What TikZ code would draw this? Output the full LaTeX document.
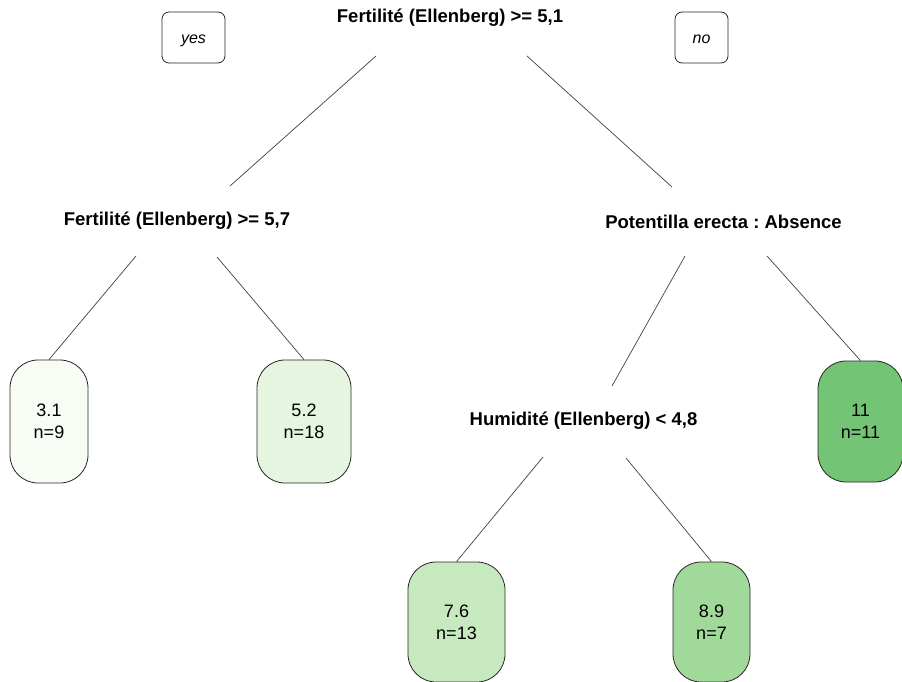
\documentclass[tikz,border=0pt]{standalone}
\usepackage{fontspec}
\setmainfont{Liberation Sans}
\frenchspacing
\definecolor{gA}{HTML}{F7FCF5}
\definecolor{gB}{HTML}{E5F5E0}
\definecolor{gC}{HTML}{C7E9C0}
\definecolor{gD}{HTML}{A1D99B}
\definecolor{gE}{HTML}{74C476}
\begin{document}
\begin{tikzpicture}[x=1pt,y=-1pt,
  split/.style={font=\fontsize{18.5}{22}\selectfont\bfseries, inner sep=0pt},
  leaf/.style={draw=black!85, line width=0.8pt, rounded corners=28pt, align=center,
    font=\fontsize{18}{21.7}\selectfont, inner sep=0pt},
  yn/.style={draw=black!85, line width=0.8pt, rounded corners=7pt,
    font=\fontsize{16}{18}\selectfont\itshape, minimum height=51pt, inner sep=0pt,
    text height=13pt, text depth=0pt},
  branch/.style={line width=0.7pt, draw=black!75}]
\useasboundingbox (0,0) rectangle (902,682);

% split labels
\node[split] (root) at (450,18) {Fertilité (Ellenberg) >= 5,1};
\node[split] (n2) at (177,221) {Fertilité (Ellenberg) >= 5,7};
\node[split] (n3) at (723.5,222) {Potentilla erecta : Absence};
\node[split] (n6) at (583.5,421) {Humidité (Ellenberg) < 4,8};

% yes / no
\node[yn, minimum width=63pt] (yes) at (193.5,37.5) {yes};
\node[yn, minimum width=53pt] (no) at (701.5,37.5) {no};

% leaves
\node[leaf, fill=gA, minimum width=78pt, minimum height=123pt] (l31) at (49,421.5) {3.1\\n=9};
\node[leaf, fill=gB, minimum width=94pt, minimum height=123pt] (l52) at (304,421.5) {5.2\\n=18};
\node[leaf, fill=gE, minimum width=85pt, minimum height=121pt] (l11) at (860.5,421.5) {11\\n=11};
\node[leaf, fill=gC, minimum width=97pt, minimum height=120pt] (l76) at (456.5,622) {7.6\\n=13};
\node[leaf, fill=gD, minimum width=77pt, minimum height=120pt] (l89) at (711.5,622) {8.9\\n=7};

% branch end points
\coordinate (rL) at (376,56);
\coordinate (rR) at (527,56);
\coordinate (n2top) at (230,186);
\coordinate (n3top) at (672,187);
\coordinate (n2L) at (136,256);
\coordinate (n2R) at (217,257);
\coordinate (n3L) at (685,256);
\coordinate (n3R) at (767,256);
\coordinate (n6top) at (612,386);
\coordinate (n6L) at (543,457);
\coordinate (n6R) at (626,458);

\draw[branch] (rL) -- (n2top);
\draw[branch] (rR) -- (n3top);
\draw[branch] (n2L) -- (l31.north);
\draw[branch] (n2R) -- (l52.north);
\draw[branch] (n3L) -- (n6top);
\draw[branch] (n3R) -- (l11.north);
\draw[branch] (n6L) -- (l76.north);
\draw[branch] (n6R) -- (l89.north);
\end{tikzpicture}
\end{document}
